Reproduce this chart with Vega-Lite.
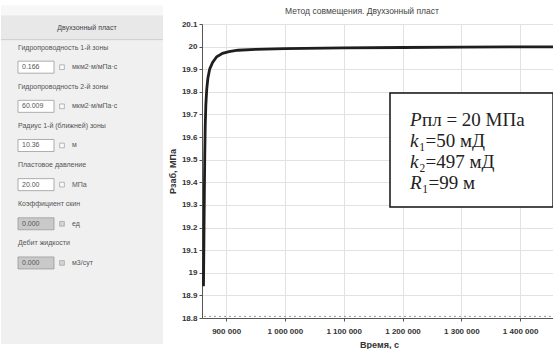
{
  "$schema": "https://vega.github.io/schema/vega-lite/v6.json",
  "background": "white",
  "padding": {"top": 5, "left": 0, "right": 0, "bottom": 0},
  "spacing": 4,
  "config": {
    "view": {"stroke": null},
    "font": "Liberation Sans",
    "axis": {"gridColor": "#e2e2e2", "domainColor": "#555", "tickColor": "#555", "tickSize": 3, "labelFontSize": 8, "labelFontWeight": "bold", "labelColor": "#333", "titleFontSize": 9, "titleFontWeight": "bold", "titleColor": "#333", "labelOverlap": false},
    "axisX": {"labelPadding": 6, "titlePadding": 5},
    "axisY": {"labelPadding": 2, "titlePadding": 4}
  },
  "datasets": {
    "panel": [
      {"slot": 0, "kind": "header", "text": "Двухзонный пласт"},
      {"slot": 1, "kind": "label", "text": "Гидропроводность 1-й зоны"},
      {"slot": 2, "kind": "input", "text": "0.166", "unit": "мкм2·м/мПа·с", "state": "on"},
      {"slot": 3, "kind": "label", "text": "Гидропроводность 2-й зоны"},
      {"slot": 4, "kind": "input", "text": "60.009", "unit": "мкм2·м/мПа·с", "state": "on"},
      {"slot": 5, "kind": "label", "text": "Радиус 1-й (ближней) зоны"},
      {"slot": 6, "kind": "input", "text": "10.36", "unit": "м", "state": "on"},
      {"slot": 7, "kind": "label", "text": "Пластовое давление"},
      {"slot": 8, "kind": "input", "text": "20.00", "unit": "МПа", "state": "on"},
      {"slot": 9, "kind": "label", "text": "Коэффициент скин"},
      {"slot": 10, "kind": "input", "text": "0.000", "unit": "ед", "state": "off"},
      {"slot": 11, "kind": "label", "text": "Дебит жидкости"},
      {"slot": 12, "kind": "input", "text": "0.000", "unit": "м3/сут", "state": "off"}
    ],
    "pressure": [
      {"t": 861500, "p": 18.94},
      {"t": 862300, "p": 19.15},
      {"t": 863000, "p": 19.35},
      {"t": 863700, "p": 19.52},
      {"t": 864500, "p": 19.65},
      {"t": 865500, "p": 19.74},
      {"t": 867000, "p": 19.81},
      {"t": 869000, "p": 19.86},
      {"t": 872000, "p": 19.9},
      {"t": 877000, "p": 19.93},
      {"t": 884000, "p": 19.955},
      {"t": 894000, "p": 19.97},
      {"t": 905000, "p": 19.978},
      {"t": 920000, "p": 19.984},
      {"t": 950000, "p": 19.988},
      {"t": 1000000, "p": 19.991},
      {"t": 1100000, "p": 19.994},
      {"t": 1200000, "p": 19.996},
      {"t": 1300000, "p": 19.998},
      {"t": 1400000, "p": 19.999},
      {"t": 1461000, "p": 19.999}
    ],
    "note": [
      {"line": 1, "sym": "P", "rest": "пл = 20 МПа", "p": 19.676},
      {"line": 2, "sym": "k", "rest": "₁=50 мД", "p": 19.583},
      {"line": 3, "sym": "k", "rest": "₂=497 мД", "p": 19.49},
      {"line": 4, "sym": "R", "rest": "₁=99 м", "p": 19.397}
    ]
  },
  "hconcat": [
    {
      "width": 162,
      "height": 325,
      "data": {"name": "panel"},
      "layer": [
        {
          "data": {"values": [{}]},
          "mark": {"type": "rect", "fill": "#f0f0f0"},
          "encoding": {
            "x": {"datum": 0, "type": "quantitative", "scale": {"domain": [0, 162], "nice": false}, "axis": null},
            "x2": {"datum": 162},
            "y": {"datum": -1.14, "type": "quantitative", "scale": {"domain": [0.05, 16.14], "nice": false, "zero": false, "reverse": true}, "axis": null},
            "y2": {"datum": 16.14}
          }
        },
        {
          "data": {"values": [{}]},
          "mark": {"type": "rect", "fill": "#f7f7f7"},
          "encoding": {
            "x": {"datum": 0, "type": "quantitative", "axis": null},
            "x2": {"datum": 162},
            "y": {"datum": -1.14, "type": "quantitative", "axis": null},
            "y2": {"datum": -0.644}
          }
        },
        {
          "data": {"values": [{}]},
          "mark": {"type": "rect", "fill": "#e8e8e8"},
          "encoding": {
            "x": {"datum": 0, "type": "quantitative", "axis": null},
            "x2": {"datum": 162},
            "y": {"datum": -0.644, "type": "quantitative", "axis": null},
            "y2": {"datum": 0.594}
          }
        },
        {
          "data": {"values": [{}]},
          "mark": {"type": "rule", "color": "#cfcfcf", "strokeWidth": 1},
          "encoding": {
            "x": {"datum": 0, "type": "quantitative", "axis": null},
            "x2": {"datum": 162},
            "y": {"datum": 0.594, "type": "quantitative", "axis": null}
          }
        },
        {
          "transform": [{"filter": "datum.kind === 'header'"}],
          "mark": {"type": "text", "align": "center", "baseline": "middle", "fontSize": 7, "color": "#444"},
          "encoding": {"x": {"datum": 86, "type": "quantitative", "axis": null}, "y": {"field": "slot", "type": "quantitative", "axis": null}, "text": {"field": "text"}}
        },
        {
          "transform": [{"filter": "datum.kind === 'label'"}],
          "mark": {"type": "text", "align": "left", "baseline": "middle", "fontSize": 7, "color": "#555"},
          "encoding": {"x": {"datum": 17, "type": "quantitative", "axis": null}, "y": {"field": "slot", "type": "quantitative", "axis": null}, "text": {"field": "text"}}
        },
        {
          "transform": [{"filter": "datum.kind === 'input'"}],
          "mark": {"type": "bar", "stroke": "#9a9a9a", "strokeWidth": 0.8, "height": 12},
          "encoding": {
            "x": {"datum": 17, "type": "quantitative", "axis": null},
            "x2": {"datum": 53},
            "y": {"field": "slot", "type": "quantitative", "axis": null},
            "color": {"field": "state", "type": "nominal", "scale": {"domain": ["on", "off"], "range": ["#ffffff", "#c9c9c9"]}, "legend": null}
          }
        },
        {
          "transform": [{"filter": "datum.kind === 'input'"}],
          "mark": {"type": "text", "align": "left", "baseline": "middle", "fontSize": 7, "color": "#555"},
          "encoding": {"x": {"datum": 21, "type": "quantitative", "axis": null}, "y": {"field": "slot", "type": "quantitative", "axis": null}, "text": {"field": "text"}}
        },
        {
          "transform": [{"filter": "datum.kind === 'input'"}],
          "mark": {"type": "point", "shape": "square", "size": 22, "filled": true, "stroke": "#888", "strokeWidth": 0.8},
          "encoding": {
            "x": {"datum": 61, "type": "quantitative", "axis": null},
            "y": {"field": "slot", "type": "quantitative", "axis": null},
            "color": {"field": "state", "type": "nominal", "legend": null}
          }
        },
        {
          "transform": [{"filter": "datum.kind === 'input'"}],
          "mark": {"type": "text", "align": "left", "baseline": "middle", "fontSize": 7, "color": "#555"},
          "encoding": {"x": {"datum": 71, "type": "quantitative", "axis": null}, "y": {"field": "slot", "type": "quantitative", "axis": null}, "text": {"field": "unit"}}
        }
      ]
    },
    {
      "width": 354,
      "height": 294,
      "title": {"text": "Метод совмещения. Двухзонный пласт", "fontSize": 8.5, "fontWeight": "normal", "color": "#444", "offset": 5, "dx": -17},
      "layer": [
        {
          "data": {"name": "pressure"},
          "mark": {"type": "line", "color": "#1e1e1e", "strokeWidth": 2.8},
          "encoding": {
            "x": {
              "field": "t", "type": "quantitative",
              "scale": {"domain": [859000, 1461000], "nice": false, "zero": false},
              "axis": {"values": [900000, 1000000, 1100000, 1200000, 1300000, 1400000], "labelExpr": "replace(format(datum.value, ','), /,/g, ' ')", "title": "Время, с"}
            },
            "y": {
              "field": "p", "type": "quantitative",
              "scale": {"domain": [18.8, 20.1], "nice": false, "zero": false},
              "axis": {"values": [18.8, 18.9, 19, 19.1, 19.2, 19.3, 19.4, 19.5, 19.6, 19.7, 19.8, 19.9, 20, 20.1], "format": ".1~f", "title": "Рзаб, МПа"}
            }
          }
        },
        {
          "data": {"values": [{}]},
          "mark": {"type": "rule", "strokeDash": [2, 3], "color": "#9a9a9a", "strokeWidth": 1},
          "encoding": {
            "y": {"datum": 18.807, "type": "quantitative", "axis": {"values": [18.8, 18.9, 19, 19.1, 19.2, 19.3, 19.4, 19.5, 19.6, 19.7, 19.8, 19.9, 20, 20.1], "format": ".1~f", "title": "Рзаб, МПа"}}
          }
        },
        {
          "data": {"values": [{}]},
          "mark": {"type": "rect", "fill": "white", "stroke": "#111", "strokeWidth": 1.5},
          "encoding": {
            "x": {"datum": 1178700, "type": "quantitative", "axis": {"values": [900000, 1000000, 1100000, 1200000, 1300000, 1400000], "labelExpr": "replace(format(datum.value, ','), /,/g, ' ')", "title": "Время, с"}},
            "x2": {"datum": 1456000},
            "y": {"datum": 19.795, "type": "quantitative", "axis": {"values": [18.8, 18.9, 19, 19.1, 19.2, 19.3, 19.4, 19.5, 19.6, 19.7, 19.8, 19.9, 20, 20.1], "format": ".1~f", "title": "Рзаб, МПа"}},
            "y2": {"datum": 19.291}
          }
        },
        {
          "data": {"name": "note"},
          "mark": {"type": "text", "align": "left", "baseline": "middle", "font": "Liberation Serif", "fontSize": 19, "fontStyle": "italic", "color": "#222"},
          "encoding": {
            "x": {"datum": 1212700, "type": "quantitative", "axis": {"values": [900000, 1000000, 1100000, 1200000, 1300000, 1400000], "labelExpr": "replace(format(datum.value, ','), /,/g, ' ')", "title": "Время, с"}},
            "y": {"field": "p", "type": "quantitative", "axis": {"values": [18.8, 18.9, 19, 19.1, 19.2, 19.3, 19.4, 19.5, 19.6, 19.7, 19.8, 19.9, 20, 20.1], "format": ".1~f", "title": "Рзаб, МПа"}},
            "text": {"field": "sym"}
          }
        },
        {
          "data": {"name": "note"},
          "transform": [{"filter": "datum.sym !== 'k'"}],
          "mark": {"type": "text", "align": "left", "baseline": "middle", "font": "Liberation Serif", "fontSize": 19, "color": "#222", "dx": 12},
          "encoding": {
            "x": {"datum": 1212700, "type": "quantitative", "axis": {"values": [900000, 1000000, 1100000, 1200000, 1300000, 1400000], "labelExpr": "replace(format(datum.value, ','), /,/g, ' ')", "title": "Время, с"}},
            "y": {"field": "p", "type": "quantitative", "axis": {"values": [18.8, 18.9, 19, 19.1, 19.2, 19.3, 19.4, 19.5, 19.6, 19.7, 19.8, 19.9, 20, 20.1], "format": ".1~f", "title": "Рзаб, МПа"}},
            "text": {"field": "rest"}
          }
        },
        {
          "data": {"name": "note"},
          "transform": [{"filter": "datum.sym === 'k'"}],
          "mark": {"type": "text", "align": "left", "baseline": "middle", "font": "Liberation Serif", "fontSize": 19, "color": "#222", "dx": 9},
          "encoding": {
            "x": {"datum": 1212700, "type": "quantitative", "axis": {"values": [900000, 1000000, 1100000, 1200000, 1300000, 1400000], "labelExpr": "replace(format(datum.value, ','), /,/g, ' ')", "title": "Время, с"}},
            "y": {"field": "p", "type": "quantitative", "axis": {"values": [18.8, 18.9, 19, 19.1, 19.2, 19.3, 19.4, 19.5, 19.6, 19.7, 19.8, 19.9, 20, 20.1], "format": ".1~f", "title": "Рзаб, МПа"}},
            "text": {"field": "rest"}
          }
        }
      ]
    }
  ]
}
